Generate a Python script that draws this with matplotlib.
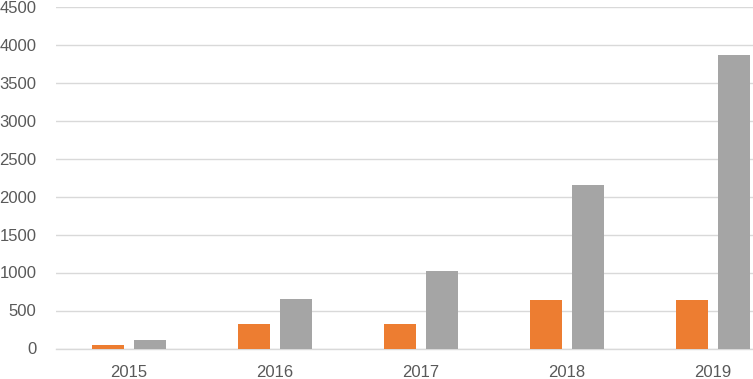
import matplotlib
matplotlib.use("Agg")
import matplotlib.pyplot as plt
import numpy as np

categories = ["2015", "2016", "2017", "2018", "2019"]
series_orange = [52, 320, 318, 640, 632]
series_gray = [108, 645, 1022, 2145, 3868]
y_ticks = [0, 500, 1000, 1500, 2000, 2500, 3000, 3500, 4000, 4500]

plt.rcParams['font.family'] = ['Liberation Sans', 'DejaVu Sans']

fig = plt.figure(figsize=(7.53, 3.79), dpi=100)
# plot area extends past the right edge (cropped chart)
ax = fig.add_axes([56/753, (379-348.5)/379, 730/753, 342/379])

x = np.arange(len(categories))
w = 0.22
off = 0.143
ax.bar(x - off, series_orange, width=w, color="#ED7D31", zorder=3)
ax.bar(x + off, series_gray, width=w, color="#A5A5A5", zorder=3)

ax.set_xlim(-0.5, 4.5)
ax.set_ylim(0, 4500)
ax.set_yticks(y_ticks)
ax.set_yticklabels([str(t) for t in y_ticks])
ax.set_xticks(x)
ax.set_xticklabels(categories)

ax.grid(axis="y", color="#D9D9D9", linewidth=1.0, zorder=0)
ax.set_axisbelow(True)
for s in ["top", "right", "left"]:
    ax.spines[s].set_visible(False)
ax.spines["bottom"].set_color("#D9D9D9")
ax.spines["bottom"].set_linewidth(1.0)

ax.tick_params(axis="both", length=0, labelsize=12, colors="#595959")
ax.tick_params(axis="y", pad=14)
ax.tick_params(axis="x", pad=12)

fig.savefig("out.png", dpi=100)
